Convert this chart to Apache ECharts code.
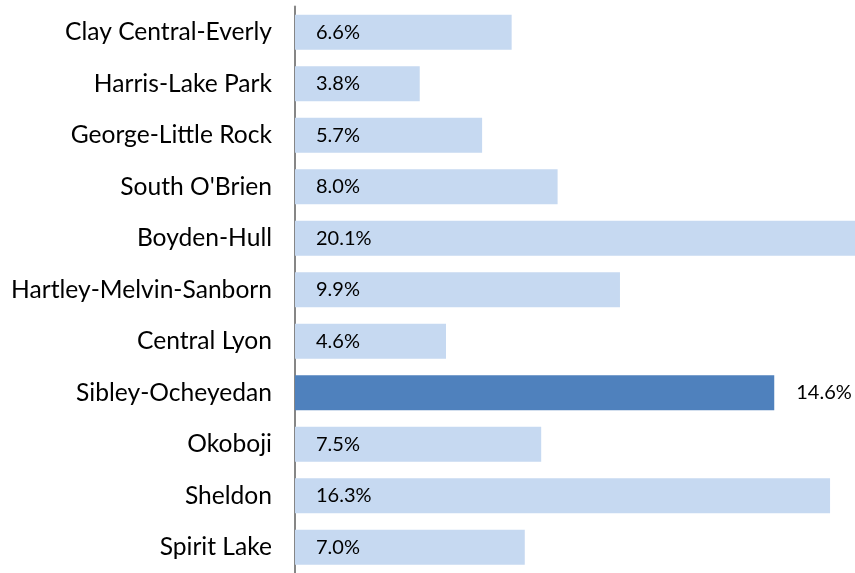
<!DOCTYPE html>
<html>
<head>
<meta charset="utf-8">
<script src="https://cdn.jsdelivr.net/npm/echarts@6/dist/echarts.min.js"></script>
<style>
  html, body { margin: 0; padding: 0; background: #fff; }
  #one { width: 855px; height: 573px; }
</style>
</head>
<body>
<div id="one"></div>
<script>
// top to bottom as in the picture
var districts = ['Clay Central-Everly', 'Harris-Lake Park', 'George-Little Rock', "South O'Brien",
  'Boyden-Hull', 'Hartley-Melvin-Sanborn', 'Central Lyon', 'Sibley-Ocheyedan', 'Okoboji',
  'Sheldon', 'Spirit Lake'];
var shares = [6.6, 3.8, 5.7, 8.0, 20.1, 9.9, 4.6, 14.6, 7.5, 16.3, 7.0];
var highlight = 'Sibley-Ocheyedan';

var mainContainer = document.getElementById('one');
var bar_Chart = echarts.init(mainContainer);

// category axis runs bottom-up, so reverse
var cats = districts.slice().reverse();
var vals = shares.slice().reverse();

var seriesData = cats.map(function (name, i) {
  var hi = name === highlight;
  return {
    value: vals[i],
    itemStyle: { color: hi ? '#4F81BD' : '#C6D9F1' },
    label: hi ? { position: 'right', distance: 22 } : { position: 'insideLeft', distance: 21 }
  };
});

var bar_Chart_option = {
  animation: false,
  grid: { left: 295, right: 0, top: 6.5, bottom: -5, containLabel: false },
  xAxis: {
    type: 'value',
    min: 0,
    max: 17.06,
    show: false
  },
  yAxis: {
    type: 'category',
    data: cats,
    axisLine: { show: true, lineStyle: { color: '#868686', width: 2 } },
    axisTick: { show: false },
    axisLabel: {
      margin: 23,
      color: '#000',
      fontFamily: 'Lato',
      fontSize: 24.6
    }
  },
  series: [{
    type: 'bar',
    data: seriesData,
    barWidth: 35,
    clip: true,
    label: {
      show: true,
      color: '#000',
      fontFamily: 'Lato',
      fontSize: 20,
      formatter: function (p) { return p.value.toFixed(1) + '%'; }
    }
  }]
};
bar_Chart.setOption(bar_Chart_option);
</script>
</body>
</html>
